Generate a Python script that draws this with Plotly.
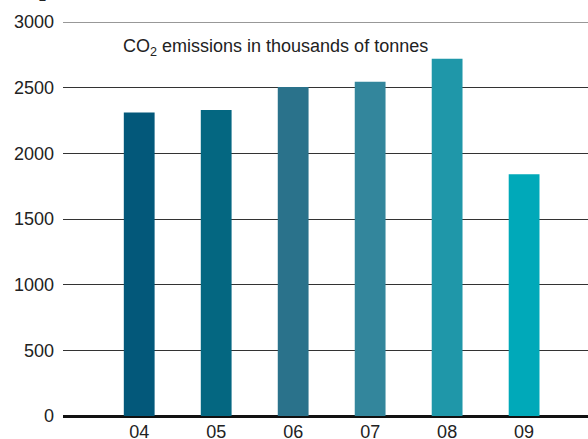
import plotly.graph_objects as go

# Annual CO2 emissions, thousands of tonnes
years = ["04", "05", "06", "07", "08", "09"]
emissions = [2310, 2330, 2505, 2545, 2720, 1840]
bar_colors = ["#03587a", "#046781", "#2a728b", "#33869c", "#1f97a9", "#00a9b9"]

y_ticks = [0, 500, 1000, 1500, 2000, 2500, 3000]

FONT = "Liberation Sans, Arial, Helvetica, sans-serif"

# plot area: x 63..588, y 22..416 (pixels)
PLOT_TOP, PLOT_BOTTOM, PLOT_H = 22, 416, 394

fig = go.Figure(
    go.Bar(
        x=years,
        y=emissions,
        marker=dict(color=bar_colors, line=dict(width=0)),
        width=0.40,
    )
)

fig.update_layout(
    width=588,
    height=439,
    margin=dict(l=63, r=0, t=PLOT_TOP, b=439 - PLOT_BOTTOM, autoexpand=False),
    paper_bgcolor="white",
    plot_bgcolor="white",
    showlegend=False,
    font=dict(family=FONT, size=18, color="#222222"),
    xaxis=dict(
        type="category",
        range=[-0.99, 5.83],
        showgrid=False,
        showline=False,
        zeroline=False,
        ticks="",
        automargin=False,
        ticklabelstandoff=3,
        tickfont=dict(size=18, color="#222222"),
    ),
    yaxis=dict(
        range=[0, y_ticks[-1]],
        tickvals=y_ticks,
        ticktext=[str(v) for v in y_ticks],
        showgrid=True,
        gridcolor="#333333",
        gridwidth=1,
        zeroline=True,
        zerolinecolor="#111111",
        zerolinewidth=2.5,
        showline=False,
        ticks="",
        automargin=False,
        ticklabelstandoff=8,
        tickfont=dict(size=18, color="#222222"),
    ),
    # top grid line sits on the plot edge, so draw it explicitly
    shapes=[
        dict(
            type="line", xref="paper", yref="y",
            x0=0, x1=1, y0=y_ticks[-1], y1=y_ticks[-1],
            line=dict(color="#333333", width=1),
            layer="below",
        )
    ],
    annotations=[
        dict(
            text="CO<sub>2</sub> emissions in thousands of tonnes",
            xref="paper", yref="paper",
            x=(121 - 63) / 525, y=(PLOT_BOTTOM - 47) / PLOT_H,
            xanchor="left", yanchor="middle",
            showarrow=False,
            font=dict(family=FONT, size=18, color="#222222"),
        ),
        dict(
            text="<b>CO<sub>2</sub> emissions in total, 2004–2009</b>",
            xref="paper", yref="paper",
            x=(10 - 63) / 525, y=(PLOT_BOTTOM - 6.5) / PLOT_H,
            xanchor="left", yanchor="bottom",
            showarrow=False,
            font=dict(family=FONT, size=18, color="#222222"),
        ),
    ],
)

fig.write_html("out.html")
